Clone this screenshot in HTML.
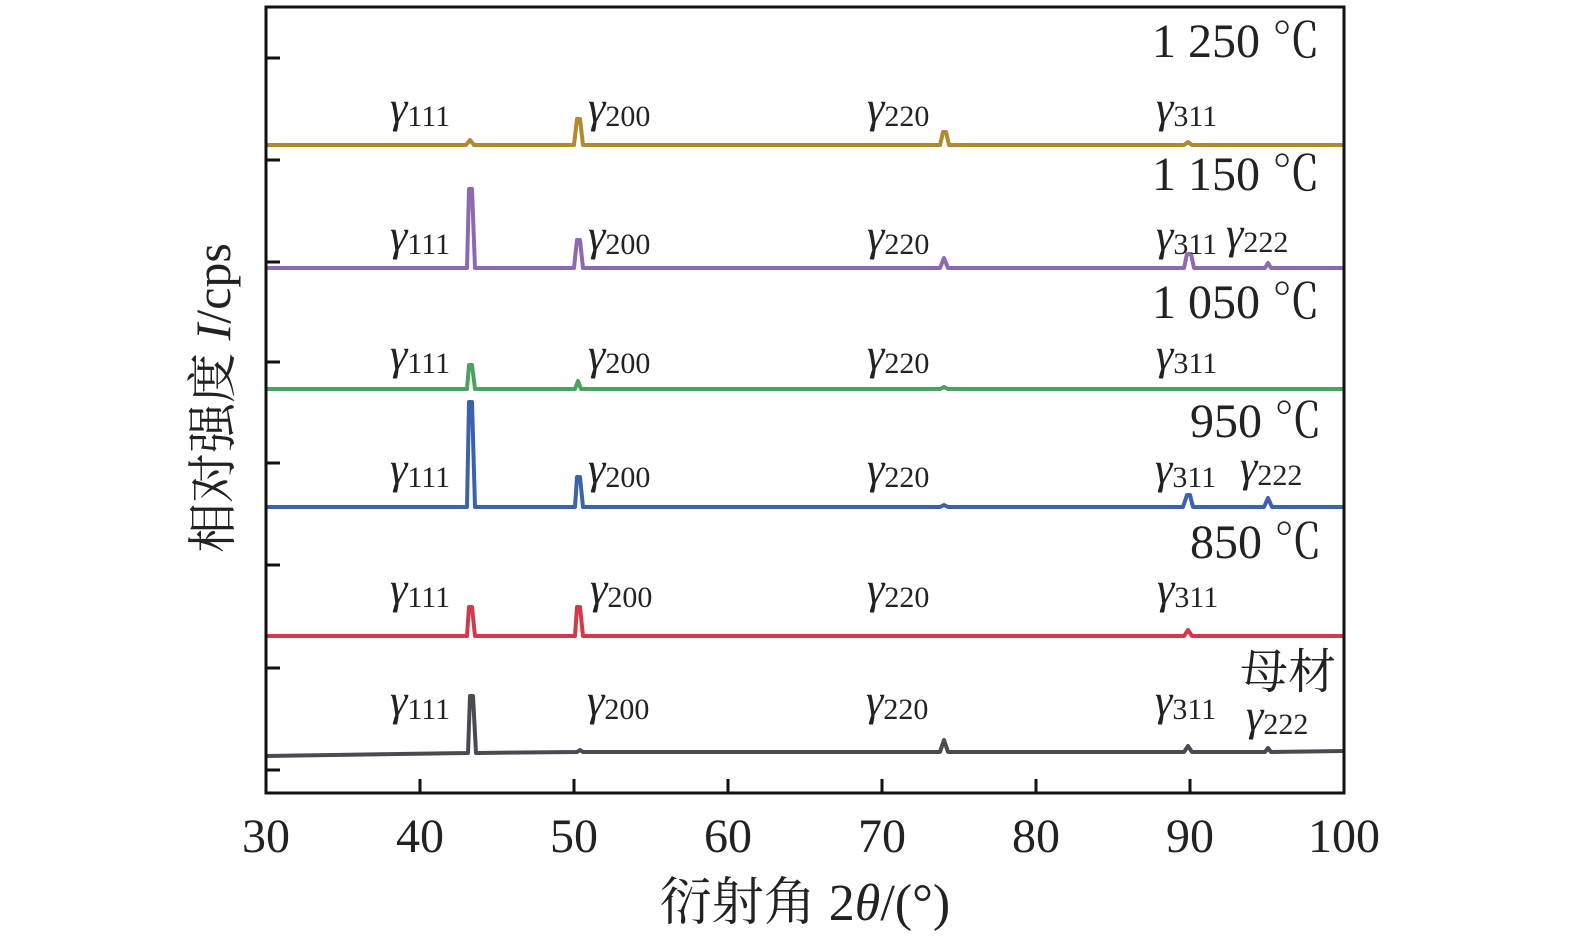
<!DOCTYPE html>
<html><head><meta charset="utf-8"><style>
html,body{margin:0;padding:0;background:#fff}
svg{display:block}
text{font-family:"Liberation Serif","Noto Serif CJK SC",serif;fill:#222}
</style></head><body>
<svg width="1575" height="945" viewBox="0 0 1575 945" xmlns="http://www.w3.org/2000/svg">
<g fill="none" stroke-width="4" stroke-linejoin="round">
<polyline stroke="#b08a2e" points="266,145 466,145 470,140 474,145 574,145 577,119 580,119 583,145 940,145 943,132 946,132 949,145 1184,145 1188,142 1192,145 1344,145"/>
<polyline stroke="#8e68b0" points="266,268 467,268 469,189 472,189 475,268 574,268 577,240 580,240 583,268 940,268 944,258 948,268 1184,268 1187,254 1191,254 1194,268 1265,268 1268,263 1271,268 1344,268"/>
<polyline stroke="#4aa160" points="266,389 467,389 469,365 472,365 475,389 575,389 578,381 581,389 940,389 944,387 948,389 1344,389"/>
<polyline stroke="#3a62ad" points="266,507 467,507 469,402 472,402 475,507 575,507 577,477 580,477 583,507 940,507 944,505 948,507 1183,507 1187,495 1190,495 1193,507 1264,507 1268,498 1272,507 1344,507"/>
<polyline stroke="#d4394a" points="266,636 467,636 469,607 472,607 475,636 575,636 577,607 580,607 583,636 1184,636 1188,630 1192,636 1344,636"/>
<polyline stroke="#4a4a50" points="266,756 468,753 470,696 473,696 476,753 577,752 580,750 583,752 940,752 944,740 948,752 1184,752 1188,746 1192,752 1265,752 1268,748 1271,752 1344,751"/>
</g>
<g stroke="#111" stroke-width="3" fill="none">
<rect x="266" y="7" width="1078" height="786"/>
<path d="M266,58h14M266,160h14M266,262h14M266,362h14M266,463h14M266,565h14M266,668h14M266,770h14"/>
<path d="M420,793v-14M574,793v-14M728,793v-14M882,793v-14M1036,793v-14M1190,793v-14"/>
</g>
<g font-size="48" text-anchor="middle">
<text x="266" y="852">30</text><text x="420" y="852">40</text><text x="574" y="852">50</text><text x="728" y="852">60</text><text x="882" y="852">70</text><text x="1036" y="852">80</text><text x="1190" y="852">90</text><text x="1344" y="852">100</text>
</g>
<text x="805" y="920" font-size="52" text-anchor="middle">衍射角 2<tspan font-style="italic">θ</tspan>/(°)</text>
<text transform="translate(230,398) rotate(-90)" font-size="50" text-anchor="middle">相对强度 <tspan font-style="italic">I</tspan>/cps</text>
<g font-size="48" text-anchor="end">
<text x="1320" y="57">1 250 ℃</text>
<text x="1320" y="190">1 150 ℃</text>
<text x="1320" y="318">1 050 ℃</text>
<text x="1322" y="437">950 ℃</text>
<text x="1322" y="558">850 ℃</text>
<text x="1336" y="688">母材</text>
</g>
<g font-size="44">
<text x="390" y="122"><tspan font-style="italic">γ</tspan><tspan font-size="30" dy="4">111</tspan></text>
<text x="588" y="122"><tspan font-style="italic">γ</tspan><tspan font-size="30" dy="4">200</tspan></text>
<text x="867" y="122"><tspan font-style="italic">γ</tspan><tspan font-size="30" dy="4">220</tspan></text>
<text x="1156" y="122"><tspan font-style="italic">γ</tspan><tspan font-size="30" dy="4">311</tspan></text>

<text x="390" y="250"><tspan font-style="italic">γ</tspan><tspan font-size="30" dy="4">111</tspan></text>
<text x="588" y="250"><tspan font-style="italic">γ</tspan><tspan font-size="30" dy="4">200</tspan></text>
<text x="867" y="250"><tspan font-style="italic">γ</tspan><tspan font-size="30" dy="4">220</tspan></text>
<text x="1156" y="250"><tspan font-style="italic">γ</tspan><tspan font-size="30" dy="4">311</tspan></text>
<text x="1226" y="248"><tspan font-style="italic">γ</tspan><tspan font-size="30" dy="4">222</tspan></text>

<text x="390" y="369"><tspan font-style="italic">γ</tspan><tspan font-size="30" dy="4">111</tspan></text>
<text x="588" y="369"><tspan font-style="italic">γ</tspan><tspan font-size="30" dy="4">200</tspan></text>
<text x="867" y="369"><tspan font-style="italic">γ</tspan><tspan font-size="30" dy="4">220</tspan></text>
<text x="1156" y="369"><tspan font-style="italic">γ</tspan><tspan font-size="30" dy="4">311</tspan></text>

<text x="390" y="483"><tspan font-style="italic">γ</tspan><tspan font-size="30" dy="4">111</tspan></text>
<text x="588" y="483"><tspan font-style="italic">γ</tspan><tspan font-size="30" dy="4">200</tspan></text>
<text x="867" y="483"><tspan font-style="italic">γ</tspan><tspan font-size="30" dy="4">220</tspan></text>
<text x="1155" y="483"><tspan font-style="italic">γ</tspan><tspan font-size="30" dy="4">311</tspan></text>
<text x="1240" y="481"><tspan font-style="italic">γ</tspan><tspan font-size="30" dy="4">222</tspan></text>

<text x="390" y="603"><tspan font-style="italic">γ</tspan><tspan font-size="30" dy="4">111</tspan></text>
<text x="590" y="603"><tspan font-style="italic">γ</tspan><tspan font-size="30" dy="4">200</tspan></text>
<text x="867" y="603"><tspan font-style="italic">γ</tspan><tspan font-size="30" dy="4">220</tspan></text>
<text x="1157" y="603"><tspan font-style="italic">γ</tspan><tspan font-size="30" dy="4">311</tspan></text>

<text x="390" y="715"><tspan font-style="italic">γ</tspan><tspan font-size="30" dy="4">111</tspan></text>
<text x="587" y="715"><tspan font-style="italic">γ</tspan><tspan font-size="30" dy="4">200</tspan></text>
<text x="866" y="715"><tspan font-style="italic">γ</tspan><tspan font-size="30" dy="4">220</tspan></text>
<text x="1155" y="715"><tspan font-style="italic">γ</tspan><tspan font-size="30" dy="4">311</tspan></text>
<text x="1246" y="730"><tspan font-style="italic">γ</tspan><tspan font-size="30" dy="4">222</tspan></text>
</g>
</svg>
</body></html>
